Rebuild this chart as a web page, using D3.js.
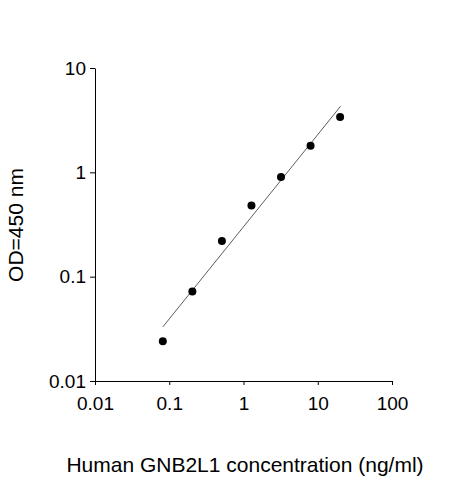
<!DOCTYPE html><html><head><meta charset="utf-8"><script src="https://cdn.jsdelivr.net/npm/d3@7"></script>
<style>body{margin:0;background:#fff}text{font-family:Arial,"Liberation Sans",sans-serif}</style></head><body>
<svg id="c" width="463" height="480"></svg>
<script>
const conc=[0.08192,0.2048,0.512,1.28,3.2,8,20];
const od=[0.024,0.072,0.22,0.48,0.9,1.8,3.4];
const fitX=[0.082,20.3];
const fitY=[0.033,4.3];
const ticks=[0.01,0.1,1,10,100];
const svg=d3.select("#c");
const x=d3.scaleLog().domain([0.01,100]).range([95,392]);
const y=d3.scaleLog().domain([0.01,10]).range([381,68]);
const fmt=d=>String(d);
const gx=svg.append("g").attr("transform","translate(0,381)").call(d3.axisBottom(x).tickValues(ticks).tickFormat(fmt).tickSize(4).tickSizeOuter(0));
const gy=svg.append("g").attr("transform","translate(95,0)").call(d3.axisLeft(y).tickValues(ticks.slice(0,4)).tickFormat(fmt).tickSize(5).tickSizeOuter(0));
[gx,gy].forEach(g=>{g.selectAll("text").attr("font-size",19).attr("fill","#000");g.selectAll("path,line").attr("stroke","#000");});
gx.selectAll("text").attr("dy","1.15em");
gy.selectAll("text").attr("x",-9);
svg.append("path").attr("d",d3.line().x(d=>x(d[0])).y(d=>y(d[1]))(fitX.map((v,i)=>[v,fitY[i]]))).attr("stroke","#333").attr("stroke-width",0.8).attr("fill","none");
svg.selectAll("circle").data(conc).join("circle").attr("cx",d=>x(d)).attr("cy",(d,i)=>y(od[i])).attr("r",4).attr("fill","#000");
svg.append("text").attr("x",245).attr("y",472).attr("text-anchor","middle").attr("font-size",21).text("Human GNB2L1 concentration (ng/ml)");
svg.append("text").attr("transform","translate(23,225) rotate(-90)").attr("text-anchor","middle").attr("font-size",21).text("OD=450 nm");
</script></body></html>
